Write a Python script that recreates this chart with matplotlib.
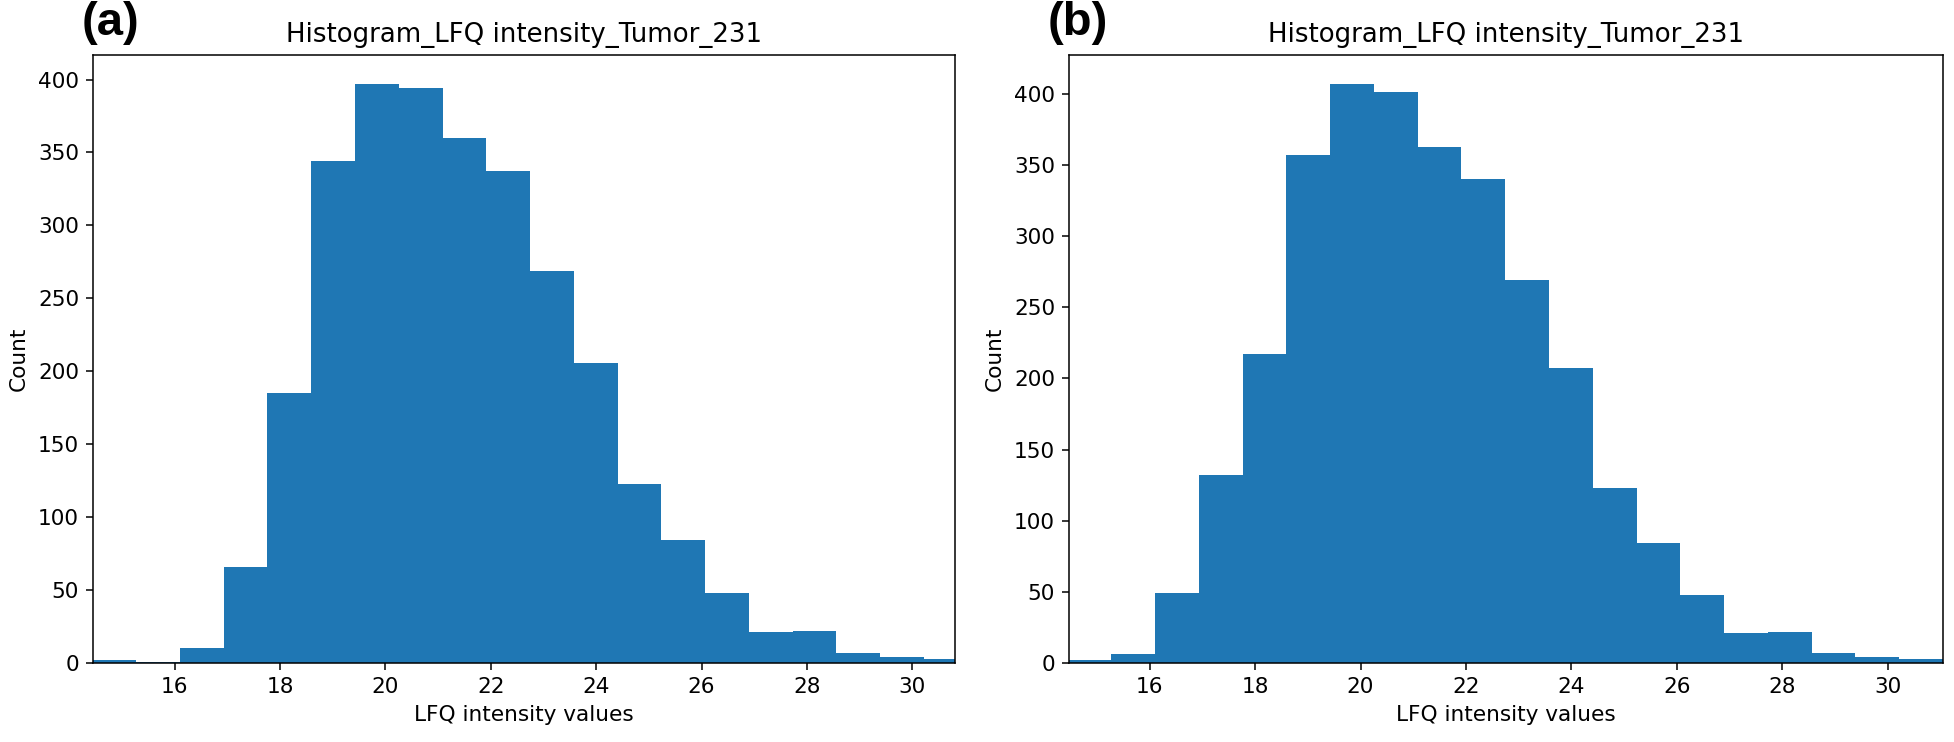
import numpy as np
import matplotlib
matplotlib.use("Agg")
import matplotlib.pyplot as plt

# histogram bin edges (LFQ intensity, log2) and counts
bin_start = 14.44
bin_stop = 31.05
n_bins = 20
counts_a = [2, 1, 10, 66, 185, 344, 397, 394, 360, 337,
            269, 206, 123, 84, 48, 21, 22, 7, 4, 3]
counts_b = [2, 6, 49, 132, 217, 357, 407, 401, 363, 340,
            269, 207, 123, 84, 48, 21, 22, 7, 4, 3]
xlims = [(14.45, 30.81), (14.47, 31.05)]
panel_labels = ["(a)", "(b)"]
title = "Histogram_LFQ intensity_Tumor_231"

edges = np.linspace(bin_start, bin_stop, n_bins + 1)
centers = (edges[:-1] + edges[1:]) / 2

fig = plt.figure(figsize=(19.54, 7.42), dpi=100)
axes_pos = [[0.0476, 0.1065, 0.4411, 0.8194],
            [0.5471, 0.1065, 0.4473, 0.8194]]
label_x = [0.042, 0.5363]

for i, counts in enumerate([counts_a, counts_b]):
    ax = fig.add_axes(axes_pos[i])
    ax.hist(centers, bins=edges, weights=counts, color="#1f77b4")
    ax.set_xlim(*xlims[i])
    ax.set_title(title, fontsize=18.7, pad=9)
    ax.set_xlabel("LFQ intensity values", fontsize=15.6, labelpad=6)
    ax.set_ylabel("Count", fontsize=15.6, labelpad=6.5)
    ax.tick_params(labelsize=15.6, length=5, width=1.1, pad=5)
    for sp in ax.spines.values():
        sp.set_linewidth(1.1)
    fig.text(label_x[i], 0.999, panel_labels[i], fontsize=34, fontweight="bold",
             family=["Liberation Sans Narrow", "Liberation Sans"], va="top", ha="left")

fig.savefig("out.png", dpi=100)
